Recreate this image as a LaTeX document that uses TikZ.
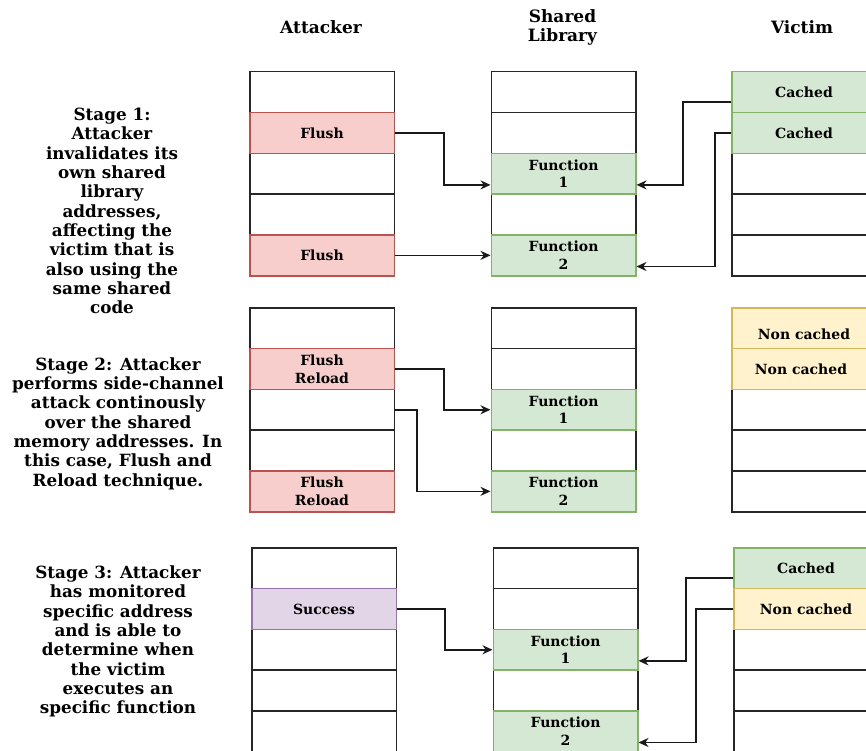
\documentclass[tikz,border=0pt]{standalone}
\usepackage{fontspec}
\setmainfont{DejaVu Serif}
\usetikzlibrary{arrows.meta}

\definecolor{flushfill}{HTML}{F8CECC}
\definecolor{flushline}{HTML}{B85450}
\definecolor{funcfill}{HTML}{D5E8D4}
\definecolor{funcline}{HTML}{82B366}
\definecolor{nonfill}{HTML}{FFF2CC}
\definecolor{nonline}{HTML}{D6B656}
\definecolor{okfill}{HTML}{E1D5E7}
\definecolor{okline}{HTML}{9673A6}

\tikzset{
  cell/.style={draw=black!85, line width=1.5pt, fill=white, anchor=north west,
    minimum width=144.5pt, minimum height=40.8pt, inner sep=0pt,
    align=center, font=\bfseries\fontsize{14}{17.7}\selectfont},
  redcell/.style={cell, fill=flushfill, draw=flushline},
  greencell/.style={cell, fill=funcfill, draw=funcline},
  yellowcell/.style={cell, fill=nonfill, draw=nonline},
  purplecell/.style={cell, fill=okfill, draw=okline},
  head/.style={align=center, font=\bfseries\fontsize{17}{19.7}\selectfont},
  stagetext/.style={align=center, font=\bfseries\fontsize{16.8}{19.3}\selectfont},
  arr/.style={draw=black!90, line width=1.5pt, -{Stealth[length=10pt, width=9pt]}}
}

\begin{document}
\begin{tikzpicture}[x=1pt, y=-1pt]
    \useasboundingbox (0,0) rectangle (866,751);
    \clip (0,0) rectangle (866,751);

    % 見出し
    \node[head] (hA) at (321, 27) {Attacker};
    \node[head] (hS) at (562.5, 27.5) {Shared\\Library};
    \node[head] (hV) at (802, 27) {Victim};

    % 空のセル (3段 x 3列 x 5行)
    \foreach \st/\top/\dx in {1/71/0, 2/307/0, 3/547/2} {
      \foreach \r in {1,...,5} {
        \node[cell] (a\st-\r) at ({249+\dx}, {\top+40.8*(\r-1)}) {};
        \node[cell] (s\st-\r) at ({490.5+\dx}, {\top+40.8*(\r-1)}) {};
        \node[cell] (v\st-\r) at ({731+\dx}, {\top+40.8*(\r-1)}) {};
      }
    }

    % Stage 1
    \node[redcell] (a1-2) at (a1-2.north west) {Flush};
    \node[redcell] (a1-5) at (a1-5.north west) {Flush};
    \node[greencell] (s1-3) at (s1-3.north west) {Function\\1};
    \node[greencell] (s1-5) at (s1-5.north west) {Function\\2};
    \node[greencell] (v1-1) at (v1-1.north west) {Cached};
    \node[greencell] (v1-2) at (v1-2.north west) {Cached};

    % Stage 2
    \node[redcell] (a2-2) at (a2-2.north west) {Flush\\Reload};
    \node[redcell] (a2-5) at (a2-5.north west) {Flush\\Reload};
    \node[greencell] (s2-3) at (s2-3.north west) {Function\\1};
    \node[greencell] (s2-5) at (s2-5.north west) {Function\\2};
    \node[yellowcell] (v2-1) at (v2-1.north west) {\raisebox{-6pt}[\height][\depth]{Non cached}};
    \node[yellowcell] (v2-2) at (v2-2.north west) {\hspace*{-6pt}Non cached};

    % Stage 3
    \node[purplecell] (a3-2) at (a3-2.north west) {Success};
    \node[greencell] (s3-3) at (s3-3.north west) {Function\\1};
    \node[greencell] (s3-5) at (s3-5.north west) {Function\\2};
    \node[greencell] (v3-1) at (v3-1.north west) {Cached};
    \node[yellowcell] (v3-2) at (v3-2.north west) {Non cached};

    % 矢印
    \draw[arr] (a1-2.east) -- ++(49,0) |- ([yshift=10pt]s1-3.south west);
    \draw[arr] (a1-5.east) -- (s1-5.west);
    \draw[arr] ([yshift=-10pt]v1-1.west) -- ++(-48,0) |- ([yshift=10pt]s1-3.south east);
    \draw[arr] (v1-2.west) -- ++(-16,0) |- ([yshift=10pt]s1-5.south east);

    \draw[arr] (a2-2.east) -- ++(49,0) |- (s2-3.west);
    \draw[arr] (a2-3.east) -- ++(22,0) |- (s2-5.west);

    \draw[arr] (a3-2.east) -- ++(48,0) |- (s3-3.west);
    \draw[arr] ([yshift=-10pt]v3-1.west) -- ++(-47,0) |- ([yshift=10pt]s3-3.south east);
    \draw[arr] (v3-2.west) -- ++(-37,0) |- ([yshift=10pt]s3-5.south east);

    % 説明文
    \node[stagetext] (st1) at (112, 211) {Stage 1:\\Attacker\\invalidates its\\own shared\\library\\addresses,\\affecting the\\victim that is\\also using the\\same shared\\code};
    \node[stagetext] (st2) at (118, 423.5) {Stage 2: Attacker\\performs side-channel\\attack continously\\over the shared\\memory addresses. In\\this case, Flush and\\Reload technique.};
    \node[stagetext] (st3) at (118, 641.5) {Stage 3: Attacker\\has monitored\\specific address\\and is able to\\determine when\\the victim\\executes an\\specific function};
\end{tikzpicture}
\end{document}
